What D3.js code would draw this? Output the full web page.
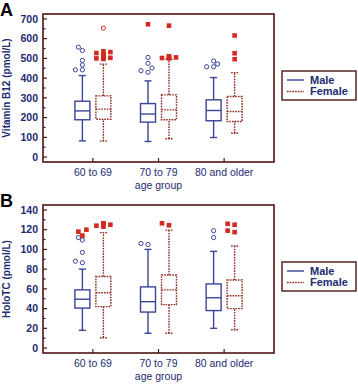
<!DOCTYPE html>
<html>
<head>
<meta charset="utf-8">
<script src="https://cdn.jsdelivr.net/npm/d3@7"></script>
<style>
  html, body { margin: 0; padding: 0; background: #fff; }
  svg { display: block; font-family: "Liberation Sans", Arial, sans-serif; }
</style>
</head>
<body>
<div id="chart"></div>
<script>
const groups = ["60 to 69", "70 to 79", "80 and older"];
const sexes = ["Male", "Female"];

// box stats per group: [whisker low, Q1, median, Q3, whisker high]
const b12Male = [[82, 189, 234, 283, 413], [79, 177, 218, 271, 386], [99, 184, 236, 290, 403]];
const b12Female = [[81, 192, 243, 310, 471], [93, 189, 239, 315, 496], [121, 180, 231, 307, 428]];
const b12MaleOut = [[442, 442, 467, 490, 540, 557], [430, 438, 452, 475, 505], [458, 458, 472, 487]];
const b12FemaleOut = [[653], [], []];
const b12MaleFar = [[], [673], []];
const b12FemaleFar = [[497, 500, 503, 505, 508, 510, 514, 518, 522, 527, 532, 536], [500, 502, 505, 508, 511, 666], [496, 526, 616]];
const b12Ticks = [0, 100, 200, 300, 400, 500, 600, 700];

const holoMale = [[18, 40.5, 49.5, 59, 80], [15, 36.5, 47, 62, 100], [20, 38, 51, 65, 98]];
const holoFemale = [[10.5, 42, 56, 72.5, 117], [15, 44, 59, 74, 119.5], [18.5, 40, 53, 69, 103.5]];
const holoMaleOut = [[86.5, 88, 97, 109.5, 112], [105, 106], [112, 119]];
const holoFemaleOut = [[], [], []];
const holoMaleFar = [[114, 118, 120], [], []];
const holoFemaleFar = [[123, 124, 125, 125.5, 126, 126.5], [124.5, 126.5], [117.5, 119, 125, 126]];
const holoTicks = [0, 20, 40, 60, 80, 100, 120, 140];

const navy = "#232a72";
const frameColor = "#4e1414";
const maleColor = "#3a4597";
const femaleColor = "#8e2a20";
const farColor = "#d22a1e";

const svg = d3.select("#chart").append("svg")
  .attr("width", 358)
  .attr("height", 384);

const panels = [
  { letter: "A", title: "Vitamin B12 (pmol/L)", domain: [-25, 725], ticks: b12Ticks, minor: 50,
    box: [b12Male, b12Female], out: [b12MaleOut, b12FemaleOut], far: [b12MaleFar, b12FemaleFar], top: 0 },
  { letter: "B", title: "HoloTC (pmol/L)", domain: [-5, 145], ticks: holoTicks, minor: 10,
    box: [holoMale, holoFemale], out: [holoMaleOut, holoFemaleOut], far: [holoMaleFar, holoFemaleFar], top: 191 }
];

const plot = { left: 43, right: 274, top: 14, bottom: 162 };

const x = d3.scalePoint().domain(groups).range([plot.left, plot.right]).padding(0.76);
const xSex = d3.scalePoint().domain(sexes).range([-10.5, 10.5]);
const boxW = 15;
const capW = 7;

panels.forEach(drawPanel);

function drawPanel(p) {
  const g = svg.append("g").attr("transform", `translate(0,${p.top})`);

  const y = d3.scaleLinear().domain(p.domain).range([plot.bottom, plot.top]);

  g.append("text")
    .attr("x", 0)
    .attr("y", 16)
    .attr("font-size", 18)
    .attr("font-weight", "bold")
    .attr("fill", "#000")
    .text(p.letter);

  // minor + major ticks, pointing into the plot
  const minorVals = d3.range(0, p.ticks[p.ticks.length - 1] + p.minor / 2, p.minor);
  g.selectAll(".ytick")
    .data(minorVals)
    .join("line")
    .attr("x1", plot.left)
    .attr("x2", d => plot.left + (p.ticks.includes(d) ? 4 : 2.5))
    .attr("y1", d => y(d))
    .attr("y2", d => y(d))
    .attr("stroke", frameColor)
    .attr("stroke-width", 1.2);

  g.selectAll(".ylab")
    .data(p.ticks)
    .join("text")
    .attr("x", plot.left - 5)
    .attr("y", d => y(d))
    .attr("dy", "0.36em")
    .attr("text-anchor", "end")
    .attr("font-size", 10.5)
    .attr("font-weight", "bold")
    .attr("fill", navy)
    .text(d => d);

  g.selectAll(".xtick")
    .data(groups)
    .join("line")
    .attr("x1", d => x(d))
    .attr("x2", d => x(d))
    .attr("y1", plot.bottom)
    .attr("y2", plot.bottom - 4)
    .attr("stroke", frameColor)
    .attr("stroke-width", 1.2);

  g.selectAll(".xlab")
    .data(groups)
    .join("text")
    .attr("x", d => x(d))
    .attr("y", plot.bottom + 14)
    .attr("text-anchor", "middle")
    .attr("font-size", 10.5)
    .attr("fill", navy)
    .text(d => d);

  g.append("text")
    .attr("x", (plot.left + plot.right) / 2)
    .attr("y", plot.bottom + 27)
    .attr("text-anchor", "middle")
    .attr("font-size", 10.5)
    .attr("fill", navy)
    .text("age group");

  g.append("text")
    .attr("transform", `translate(10,${(plot.top + plot.bottom) / 2}) rotate(-90)`)
    .attr("text-anchor", "middle")
    .attr("font-size", 10)
    .attr("font-weight", "bold")
    .attr("fill", navy)
    .text(p.title);

  sexes.forEach((sex, si) => {
    const color = si === 0 ? maleColor : femaleColor;
    const dash = si === 0 ? null : "1.6,1.1";
    groups.forEach((grp, gi) => {
      const [lo, q1, med, q3, hi] = p.box[si][gi];
      const cx = x(grp) + xSex(sex);
      const bg = g.append("g")
        .attr("stroke", color)
        .attr("stroke-width", 1.4)
        .attr("stroke-dasharray", dash)
        .attr("fill", "none");
      bg.append("line").attr("x1", cx).attr("x2", cx).attr("y1", y(lo)).attr("y2", y(q1));
      bg.append("line").attr("x1", cx).attr("x2", cx).attr("y1", y(q3)).attr("y2", y(hi));
      bg.append("line").attr("x1", cx - capW / 2).attr("x2", cx + capW / 2).attr("y1", y(lo)).attr("y2", y(lo));
      bg.append("line").attr("x1", cx - capW / 2).attr("x2", cx + capW / 2).attr("y1", y(hi)).attr("y2", y(hi));
      bg.append("rect").attr("x", cx - boxW / 2).attr("y", y(q3)).attr("width", boxW).attr("height", y(q1) - y(q3));
      bg.append("line").attr("x1", cx - boxW / 2).attr("x2", cx + boxW / 2).attr("y1", y(med)).attr("y2", y(med));

      g.selectAll(null)
        .data(dodge(p.out[si][gi], y, 4.5))
        .join("circle")
        .attr("cx", d => cx + d.dx)
        .attr("cy", d => y(d.v))
        .attr("r", 2.1)
        .attr("fill", "#fff")
        .attr("stroke", si === 0 ? maleColor : farColor)
        .attr("stroke-width", 1);

      g.selectAll(null)
        .data(dodge(p.far[si][gi], y, 4.5))
        .join("rect")
        .attr("x", d => cx + d.dx - 2.3)
        .attr("y", d => y(d.v) - 2.3)
        .attr("width", 4.6)
        .attr("height", 4.6)
        .attr("fill", farColor);
    });
  });

  // frame
  g.append("rect")
    .attr("x", plot.left)
    .attr("y", plot.top)
    .attr("width", plot.right - plot.left)
    .attr("height", plot.bottom - plot.top)
    .attr("fill", "none")
    .attr("stroke", frameColor)
    .attr("stroke-width", 1.6);

  // legend
  const lg = g.append("g").attr("transform", "translate(282,71)");
  lg.append("rect")
    .attr("width", 74)
    .attr("height", 29)
    .attr("fill", "#fff")
    .attr("stroke", frameColor)
    .attr("stroke-width", 1.4);
  sexes.forEach((sex, si) => {
    const ly = 9 + si * 11.5;
    lg.append("line")
      .attr("x1", 5).attr("x2", 22)
      .attr("y1", ly).attr("y2", ly)
      .attr("stroke", si === 0 ? maleColor : femaleColor)
      .attr("stroke-width", 1.4)
      .attr("stroke-dasharray", si === 0 ? null : "1.6,1.1");
    lg.append("text")
      .attr("x", 28)
      .attr("y", ly)
      .attr("dy", "0.36em")
      .attr("font-size", 11)
      .attr("font-weight", "bold")
      .attr("fill", navy)
      .text(sex);
  });
}

// spread overlapping markers sideways so each stays visible
function dodge(values, y, minDist) {
  const placed = [];
  const offsets = [0, -4, 4, -7, 7];
  values.slice().sort((a, b) => a - b).forEach(v => {
    const py = y(v);
    const dx = offsets.find(o => placed.every(q => Math.hypot(q.dx - o, y(q.v) - py) >= minDist)) ?? 0;
    placed.push({ v, dx });
  });
  return placed;
}
</script>
</body>
</html>
